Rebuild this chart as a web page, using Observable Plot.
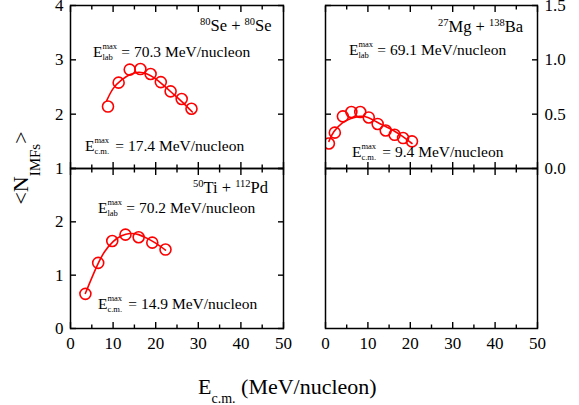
<!DOCTYPE html>
<html>
<head>
<meta charset="utf-8">
<script src="https://cdn.jsdelivr.net/npm/d3@7"></script>
<script src="https://cdn.jsdelivr.net/npm/@observablehq/plot@0.6"></script>
<style>
  html, body { margin: 0; padding: 0; background: white; }
  #wrap { position: relative; width: 579px; height: 405px; overflow: hidden; font-family: "Liberation Serif", "Tinos", "Times New Roman", Times, "DejaVu Serif", "Noto Serif", serif; color: black; }
  #wrap svg { position: absolute; }
  .ann { position: absolute; white-space: nowrap; line-height: 1; transform: translateY(-50%); font-size: 15.5px; }
  .rx { font-size: 16.5px; }
  .rx sup { font-size: 10.5px; vertical-align: 0; position: relative; top: -6px; }
  .ss { display: inline-block; position: relative; width: 15px; height: 0; }
  .ss .u { position: absolute; left: 0; bottom: 6px; font-size: 8.5px; line-height: 9px; }
  .ss .d { position: absolute; left: 0; top: -4px; font-size: 8.5px; line-height: 9px; }
  .ssc { width: 17px; }
  #ylab { position: absolute; left: 21px; top: 168px; font-size: 22px; line-height: 1; white-space: nowrap; transform: translate(-50%, -50%) rotate(-90deg); }
  #ylab .sb { font-size: 15px; position: relative; top: 12px; }
  #xlab { position: absolute; left: 198px; top: 387px; font-size: 22px; line-height: 1; white-space: nowrap; transform: translateY(-50%); }
  #xlab .sb { font-size: 14px; position: relative; top: 9px; }
</style>
</head>
<body>
<div id="wrap"></div>
<script>
// ---- data ----
const xMajor = [0, 10, 20, 30, 40, 50];
const xMinor = [5, 15, 25, 35, 45];
const xTickLabels = [0, 10, 20, 30, 40, 50];

// 80Se + 80Se
const seX = [8.8, 11.3, 13.9, 16.4, 18.8, 21.2, 23.5, 26.1, 28.4];
const seY = [2.14, 2.58, 2.82, 2.83, 2.74, 2.59, 2.42, 2.28, 2.10];
const seFitX = [8.5, 10, 12, 14, 16, 18, 20, 22, 24, 26, 28.6];
const seFitY = [2.25, 2.47, 2.63, 2.73, 2.77, 2.74, 2.65, 2.52, 2.38, 2.24, 2.04];
const seYTicks = [1, 2, 3, 4];
const seYLabels = [1, 2, 3, 4];

// 27Mg + 138Ba
const mgX = [0.8, 2.2, 4.1, 6.1, 8.2, 10.2, 12.3, 14.2, 16.3, 18.3, 20.4];
const mgY = [0.23, 0.33, 0.48, 0.52, 0.52, 0.47, 0.41, 0.35, 0.31, 0.28, 0.25];
const mgFitX = [0.8, 2, 4, 6, 8, 10, 12, 14, 16, 18, 20.4];
const mgFitY = [0.25, 0.34, 0.42, 0.46, 0.48, 0.47, 0.43, 0.39, 0.35, 0.30, 0.23];
const mgYTicks = [0, 0.5, 1.0, 1.5];
const mgYLabels = [0, 0.5, 1.0, 1.5];

// 50Ti + 112Pd
const tiX = [3.5, 6.5, 9.8, 12.9, 16.0, 19.2, 22.3];
const tiY = [0.65, 1.23, 1.64, 1.76, 1.71, 1.61, 1.48];
const tiFitX = [3.5, 5, 6.5, 8, 10, 12, 14, 16, 18, 20, 22.3];
const tiFitY = [0.66, 0.95, 1.22, 1.44, 1.63, 1.74, 1.78, 1.76, 1.69, 1.60, 1.47];
const tiYTicks = [0, 1, 2, 3];
const tiYLabels = [0, 1, 2];

// ---- drawing ----
const RED = "#ff0000";
const FONT = '"Liberation Serif", "Tinos", "Times New Roman", Times, "DejaVu Serif", "Noto Serif", serif';
const wrap = document.getElementById("wrap");

function panel(o) {
  const marks = [];
  const nofmt = () => "";
  for (const anchor of ["bottom", "top"]) {
    marks.push(Plot.axisX(xMajor, {anchor, tickSize: -6, tickFormat: nofmt, label: null, strokeWidth: 1.4}));
    marks.push(Plot.axisX(xMinor, {anchor, tickSize: -3.5, tickFormat: nofmt, label: null, strokeWidth: 1.4}));
  }
  if (o.xLabels) {
    marks.push(Plot.axisX(o.xLabels, {anchor: "bottom", tickSize: 0, tickPadding: 8, label: null, fontSize: 17, tickFormat: d3.format("d")}));
  }
  if (o.yTicks) {
    for (const anchor of ["left", "right"]) {
      marks.push(Plot.axisY(o.yTicks, {anchor, tickSize: -6, tickFormat: nofmt, label: null, strokeWidth: 1.4}));
    }
  }
  if (o.yLabels) {
    marks.push(Plot.axisY(o.yLabels, {anchor: o.yLabelAnchor, tickSize: 0, tickPadding: 7, label: null, fontSize: 17, tickFormat: o.yFormat}));
  }
  if (o.fitX) {
    const fit = o.fitX.map((x, i) => ({x, y: o.fitY[i]}));
    marks.push(Plot.line(fit, {x: "x", y: "y", stroke: RED, strokeWidth: 1.6, curve: "natural", clip: true}));
  }
  if (o.ptX) {
    const pts = o.ptX.map((x, i) => ({x, y: o.ptY[i]}));
    marks.push(Plot.dot(pts, {x: "x", y: "y", r: 5.5, stroke: RED, strokeWidth: 1.6, fill: "none", clip: true}));
  }
  marks.push(Plot.frame({stroke: "black", strokeWidth: 1.5}));
  const svg = Plot.plot({
    width: o.width, height: o.height,
    marginLeft: o.mL, marginRight: o.mR, marginTop: o.mT, marginBottom: o.mB,
    style: {overflow: "visible", background: "transparent", fontFamily: FONT, fontSize: "17px", color: "black"},
    x: {domain: [0, 50], axis: null},
    y: {domain: o.yDomain, axis: null},
    marks
  });
  svg.style.left = o.left + "px";
  svg.style.top = o.top + "px";
  svg.style.overflow = "visible";
  svg.style.fontFamily = FONT;
  wrap.appendChild(svg);
}

// top-left
panel({left: 0, top: 0, width: 300, height: 180, mL: 70, mR: 17, mT: 5, mB: 12,
  yDomain: [1, 4], yTicks: seYTicks, yLabels: seYLabels, yLabelAnchor: "left", yFormat: d3.format("d"),
  ptX: seX, ptY: seY, fitX: seFitX, fitY: seFitY});
// top-right
panel({left: 300, top: 0, width: 279, height: 180, mL: 25, mR: 42, mT: 5, mB: 12,
  yDomain: [0, 1.5], yTicks: mgYTicks, yLabels: mgYLabels, yLabelAnchor: "right", yFormat: d3.format(".1f"),
  ptX: mgX, ptY: mgY, fitX: mgFitX, fitY: mgFitY});
// bottom-left
panel({left: 0, top: 160, width: 300, height: 200, mL: 70, mR: 17, mT: 8, mB: 32,
  yDomain: [0, 3], yTicks: tiYTicks, yLabels: tiYLabels, yLabelAnchor: "left", yFormat: d3.format("d"),
  xLabels: xTickLabels, ptX: tiX, ptY: tiY, fitX: tiFitX, fitY: tiFitY});
// bottom-right (empty)
panel({left: 300, top: 160, width: 279, height: 200, mL: 25, mR: 42, mT: 8, mB: 32,
  yDomain: [0, 1], xLabels: xTickLabels});

// annotations
function add(html, cls, left, top) {
  const d = document.createElement("div");
  d.className = "ann " + (cls || "");
  d.style.left = left + "px";
  d.style.top = top + "px";
  d.innerHTML = html;
  wrap.appendChild(d);
}
const elab = (v) => `E<span class="ss"><span class="u">max</span><span class="d">lab</span></span> = ${v} MeV/nucleon`;
const ecm = (v) => `E<span class="ss ssc"><span class="u">max</span><span class="d">c.m.</span></span> = ${v} MeV/nucleon`;

add(`<sup>80</sup>Se + <sup>80</sup>Se`, "rx", 200, 26);
add(elab("70.3"), "", 93, 51.5);
add(ecm("17.4"), "", 85, 146);

add(`<sup>27</sup>Mg + <sup>138</sup>Ba`, "rx", 438, 27);
add(elab("69.1"), "", 349, 50);
add(ecm("9.4"), "", 352, 152);

add(`<sup>50</sup>Ti + <sup>112</sup>Pd`, "rx", 193, 188);
add(elab("70.2"), "", 98, 208);
add(ecm("14.9"), "", 98, 304);

const yl = document.createElement("div");
yl.id = "ylab";
yl.innerHTML = `&lt;N<span class="sb">IMFs</span>&gt;`;
wrap.appendChild(yl);

const xl = document.createElement("div");
xl.id = "xlab";
xl.innerHTML = `E<span class="sb">c.m.</span> (MeV/nucleon)`;
wrap.appendChild(xl);
</script>
</body>
</html>
